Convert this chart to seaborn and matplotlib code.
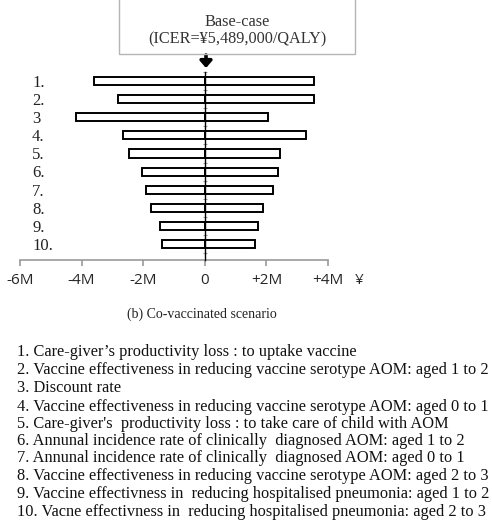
import matplotlib
matplotlib.use('Agg')
import matplotlib.pyplot as plt
import matplotlib.transforms as mtransforms
from matplotlib.patches import Rectangle, FancyArrowPatch
import seaborn as sns
import pandas as pd

# ================================================================
# Data (ICER change, million yen)
# ================================================================
CATEGORIES = ['1.', '2.', '3', '4.', '5.', '6.', '7.', '8.', '9.', '10.']
LOW_VALUES = [-3.60, -2.82, -4.19, -2.66, -2.47, -2.04, -1.91, -1.75, -1.47, -1.40]
HIGH_VALUES = [3.54, 3.54, 2.05, 3.28, 2.43, 2.37, 2.21, 1.88, 1.72, 1.62]
X_TICKS = [-6, -4, -2, 0, 2, 4]
X_TICK_LABELS = ['-6M', '-4M', '-2M', '0', '+2M', '+4M']
BASE_TEXT = 'Base-case\n(ICER=\u00a55,489,000/QALY)'
CAPTION = '(b) Co-vaccinated scenario'
LEGEND_LINES = [
    '1. Care-giver\u2019s productivity loss : to uptake vaccine',
    '2. Vaccine effectiveness in reducing vaccine serotype AOM: aged 1 to 2',
    '3. Discount rate',
    '4. Vaccine effectiveness in reducing vaccine serotype AOM: aged 0 to 1',
    "5. Care-giver's  productivity loss : to take care of child with AOM",
    '6. Annunal incidence rate of clinically  diagnosed AOM: aged 1 to 2',
    '7. Annunal incidence rate of clinically  diagnosed AOM: aged 0 to 1',
    '8. Vaccine effectiveness in reducing vaccine serotype AOM: aged 2 to 3',
    '9. Vaccine effectivness in  reducing hospitalised pneumonia: aged 1 to 2',
    '10. Vacne effectivness in  reducing hospitalised pneumonia: aged 2 to 3',
]

df = pd.DataFrame({'param': CATEGORIES, 'low': LOW_VALUES, 'high': HIGH_VALUES})

sns.set_style('white')
SERIF = 'Liberation Serif'
SANS = 'Open Sans'

W, H = 492, 524
fig = plt.figure(figsize=(W / 100, H / 100), dpi=100)
ax = fig.add_axes([20 / W, (H - 260) / H, 308 / W, 188 / H])

for col in ['low', 'high']:
    sns.barplot(data=df, x=col, y='param', orient='h', order=CATEGORIES,
                color='white', edgecolor='black', linewidth=1.4, width=0.45, ax=ax)

ax.set_xlim(-6, 4)
ax.set_ylim(9.88, -0.44)
ax.set_xlabel('')
ax.set_ylabel('')

# spines: vertical axis at 0, gray bottom axis
for s in ['top', 'right']:
    ax.spines[s].set_visible(False)
ax.spines['left'].set_position(('data', 0))
ax.spines['left'].set_color('black')
ax.spines['left'].set_linewidth(1.0)
ax.spines['left'].set_zorder(5)
ax.spines['bottom'].set_color('#9a9a9a')
ax.spines['bottom'].set_linewidth(1.2)

ax.set_xticks(X_TICKS)
ax.set_xticklabels(X_TICK_LABELS, fontfamily=SANS, fontsize=11)
ax.tick_params(axis='x', bottom=True, direction='out', length=4, width=1.2,
               color='#9a9a9a', pad=5.5)
ax.set_yticks([i - 0.5 for i in range(len(CATEGORIES))] + [len(CATEGORIES) - 0.5])
ax.set_yticklabels([])
ax.tick_params(axis='y', left=True, direction='inout', length=3, width=0.8, color='#9a9a9a')

# category labels at the far left
trans = mtransforms.blended_transform_factory(ax.transAxes, ax.transData)
for i, lab in enumerate(CATEGORIES):
    ax.text(0.039, i + 0.1, lab, transform=trans, ha='left', va='center',
            fontfamily=SERIF, fontsize=12, color='#222222')

# yen unit
fig.text(359 / W, 1 - 280 / H, '\u00a5', fontfamily=SANS, fontsize=11,
         ha='center', va='center')

# base-case box and arrow
fig.patches.append(Rectangle((119 / W, 1 - 54 / H), 236 / W, 60 / H,
                             transform=fig.transFigure, fill=False,
                             edgecolor='#b5b5b5', linewidth=1.0))
fig.text(237 / W, 1 - 31 / H, BASE_TEXT, fontfamily=SERIF, fontsize=11.7,
         ha='center', va='center', linespacing=1.1, color='#333333')
fig.add_artist(FancyArrowPatch(
    (206 / W, 1 - 55 / H), (206 / W, 1 - 68 / H), transform=fig.transFigure,
    arrowstyle='-|>,head_width=0.35,head_length=0.4', lw=2.6,
    mutation_scale=10, color='black', shrinkA=0, shrinkB=0))

# caption
fig.text(202 / W, 1 - 314 / H, CAPTION, fontfamily=SERIF, fontsize=10,
         ha='center', va='center', color='#222222')

# parameter list
LINE_Y = [352, 370, 388, 407, 424, 441, 458, 476, 494, 512]
for y, line in zip(LINE_Y, LEGEND_LINES):
    fig.text(17 / W, 1 - y / H, line, fontfamily=SERIF, fontsize=11.8,
             ha='left', va='center', color='#111111')

plt.savefig('out.png', dpi=100)
plt.close()
